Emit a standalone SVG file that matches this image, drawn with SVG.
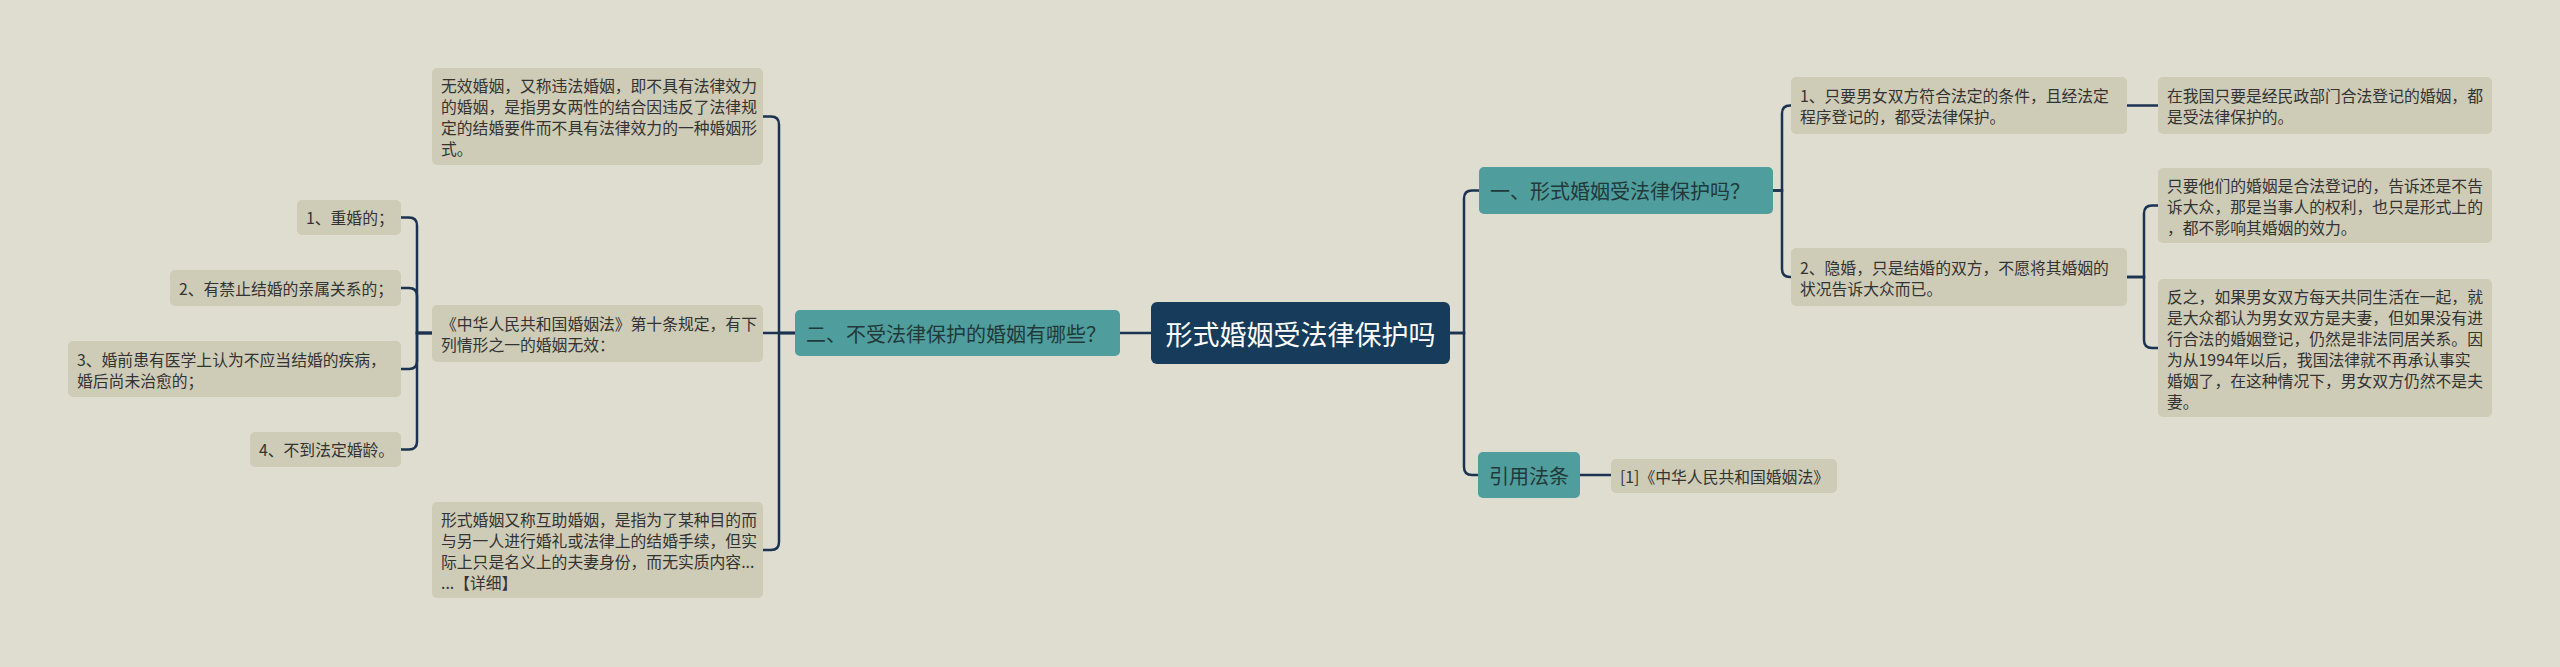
<svg xmlns="http://www.w3.org/2000/svg" width="2560" height="667" viewBox="0 0 2560 667">
<style>
.bg{fill:#dfddcf}
.leaf{fill:#cecbb6}
.teal{fill:#4f9d9c}
.root{fill:#173b5a}
.lt{font-family:"Noto Sans CJK SC","Noto Sans",sans-serif;font-size:15.8px;fill:#333333;dominant-baseline:central}
.tt{font-family:"Noto Sans CJK SC","Noto Sans",sans-serif;font-size:20px;fill:#22393a;dominant-baseline:central}
.rt{font-family:"Noto Sans CJK SC","Noto Sans",sans-serif;font-size:27px;fill:#ffffff;dominant-baseline:central;text-anchor:middle}
.con path{fill:none;stroke:#1b3350;stroke-width:2.5}
</style>
<rect class="bg" x="0" y="0" width="2560" height="667"/>
<g class="con" id="connectors">
<path d="M1151 333 H1120"/>
<path d="M795 333 H779 V124.5 Q779 116.5 771 116.5 H763"/>
<path d="M795 333 H763"/>
<path d="M795 333 H779 V542 Q779 550 771 550 H763"/>
<path d="M432 333 H417 V225.5 Q417 217.5 409 217.5 H401"/>
<path d="M432 333 H417 V296 Q417 288 409 288 H401"/>
<path d="M432 333 H417 V361 Q417 369 409 369 H401"/>
<path d="M432 333 H417 V441.5 Q417 449.5 409 449.5 H401"/>
<path d="M1450 333 H1464 V198.5 Q1464 190.5 1472 190.5 H1479"/>
<path d="M1450 333 H1464 V467 Q1464 475 1472 475 H1478"/>
<path d="M1773 190.5 H1782 V113.5 Q1782 105.5 1790 105.5 H1791"/>
<path d="M1773 190.5 H1782 V269 Q1782 277 1790 277 H1791"/>
<path d="M2127 105.5 H2158"/>
<path d="M2127 277 H2144 V213.5 Q2144 205.5 2152 205.5 H2158"/>
<path d="M2127 277 H2144 V340 Q2144 348 2152 348 H2158"/>
<path d="M1580 475 H1611"/>
</g>
<g id="root">
<rect class="root" x="1151" y="302" width="299" height="62" rx="6"/>
<text class="rt" x="1300.5" y="333">形式婚姻受法律保护吗</text>
</g>
<g id="t2">
<rect class="teal" x="795" y="310" width="325" height="46" rx="5"/>
<text class="tt" x="806" y="333">二、不受法律保护的婚姻有哪些？</text>
</g>
<g id="a">
<rect class="leaf" x="432" y="68" width="331" height="97" rx="5"/>
<text class="lt" x="441"><tspan x="441" y="85">无效婚姻，又称违法婚姻，即不具有法律效力</tspan><tspan x="441" y="106">的婚姻，是指男女两性的结合因违反了法律规</tspan><tspan x="441" y="127">定的结婚要件而不具有法律效力的一种婚姻形</tspan><tspan x="441" y="148">式。</tspan></text>
</g>
<g id="b">
<rect class="leaf" x="432" y="305" width="331" height="57" rx="5"/>
<text class="lt"><tspan x="441" y="323">《中华人民共和国婚姻法》第十条规定，有下</tspan><tspan x="441" y="344">列情形之一的婚姻无效：</tspan></text>
</g>
<g id="c">
<rect class="leaf" x="432" y="502" width="331" height="96" rx="5"/>
<text class="lt"><tspan x="441" y="518.5">形式婚姻又称互助婚姻，是指为了某种目的而</tspan><tspan x="441" y="539.5">与另一人进行婚礼或法律上的结婚手续，但实</tspan><tspan x="441" y="560.5">际上只是名义上的夫妻身份，而无实质内容...</tspan><tspan x="441" y="581.5">...【详细】</tspan></text>
</g>
<g id="l1">
<rect class="leaf" x="297" y="200" width="104" height="35" rx="5"/>
<text class="lt" x="306" y="217.5">1、重婚的；</text>
</g>
<g id="l2">
<rect class="leaf" x="170" y="270" width="231" height="36" rx="5"/>
<text class="lt" x="179" y="288">2、有禁止结婚的亲属关系的；</text>
</g>
<g id="l3">
<rect class="leaf" x="68" y="341" width="333" height="56" rx="5"/>
<text class="lt"><tspan x="77" y="358.5">3、婚前患有医学上认为不应当结婚的疾病，</tspan><tspan x="77" y="379.5">婚后尚未治愈的；</tspan></text>
</g>
<g id="l4">
<rect class="leaf" x="250" y="432" width="151" height="35" rx="5"/>
<text class="lt" x="259" y="449.5">4、不到法定婚龄。</text>
</g>
<g id="t1">
<rect class="teal" x="1479" y="167" width="294" height="47" rx="5"/>
<text class="tt" x="1490" y="190.5">一、形式婚姻受法律保护吗？</text>
</g>
<g id="t3">
<rect class="teal" x="1478" y="452" width="102" height="46" rx="5"/>
<text class="tt" x="1489" y="475">引用法条</text>
</g>
<g id="ref">
<rect class="leaf" x="1611" y="459" width="226" height="34" rx="5"/>
<text class="lt" x="1620" y="476">[1]《中华人民共和国婚姻法》</text>
</g>
<g id="r1">
<rect class="leaf" x="1791" y="77" width="336" height="57" rx="5"/>
<text class="lt"><tspan x="1800" y="95">1、只要男女双方符合法定的条件，且经法定</tspan><tspan x="1800" y="116">程序登记的，都受法律保护。</tspan></text>
</g>
<g id="r2">
<rect class="leaf" x="1791" y="248" width="336" height="58" rx="5"/>
<text class="lt"><tspan x="1800" y="266.5">2、隐婚，只是结婚的双方，不愿将其婚姻的</tspan><tspan x="1800" y="287.5">状况告诉大众而已。</tspan></text>
</g>
<g id="r1a">
<rect class="leaf" x="2158" y="77" width="334" height="57" rx="5"/>
<text class="lt"><tspan x="2167" y="95">在我国只要是经民政部门合法登记的婚姻，都</tspan><tspan x="2167" y="116">是受法律保护的。</tspan></text>
</g>
<g id="r2a">
<rect class="leaf" x="2158" y="168" width="334" height="75" rx="5"/>
<text class="lt"><tspan x="2167" y="184.5">只要他们的婚姻是合法登记的，告诉还是不告</tspan><tspan x="2167" y="205.5">诉大众，那是当事人的权利，也只是形式上的</tspan><tspan x="2167" y="226.5">，都不影响其婚姻的效力。</tspan></text>
</g>
<g id="r2b">
<rect class="leaf" x="2158" y="279" width="334" height="138" rx="5"/>
<text class="lt"><tspan x="2167" y="295.5">反之，如果男女双方每天共同生活在一起，就</tspan><tspan x="2167" y="316.5">是大众都认为男女双方是夫妻，但如果没有进</tspan><tspan x="2167" y="337.5">行合法的婚姻登记，仍然是非法同居关系。因</tspan><tspan x="2167" y="358.5">为从1994年以后，我国法律就不再承认事实</tspan><tspan x="2167" y="379.5">婚姻了，在这种情况下，男女双方仍然不是夫</tspan><tspan x="2167" y="400.5">妻。</tspan></text>
</g>
</svg>
